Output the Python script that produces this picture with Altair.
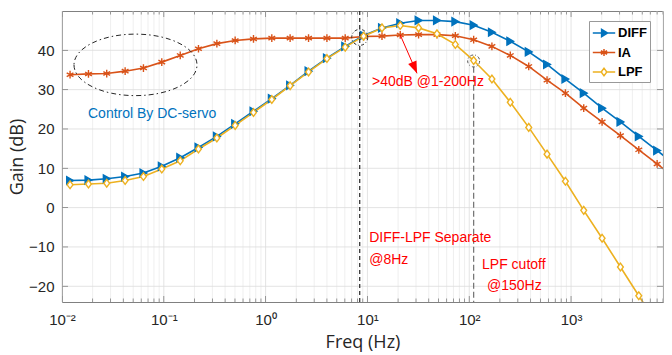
import altair as alt
import pandas as pd

# ---------------- data ----------------
freq = [0.0120, 0.0182, 0.0275, 0.0417, 0.0631, 0.0955, 0.145, 0.219, 0.332, 0.502,
        0.760, 1.15, 1.74, 2.64, 4.00, 6.05, 9.17, 13.9, 21.0, 31.8,
        48.2, 73.0, 110.5, 167, 253, 384, 581, 880, 1332, 2018,
        3055, 4627, 7006, 10607]
diff_db = [6.9, 7.0, 7.35, 7.9, 8.8, 10.5, 12.7, 15.3, 18.1, 21.3,
           24.5, 27.7, 31.1, 34.7, 38.0, 41.0, 43.8, 45.7, 46.9, 47.6,
           47.6, 47.3, 46.4, 44.6, 42.3, 39.6, 36.4, 32.7, 29.1, 25.3,
           21.8, 18.1, 14.5, 10.9]
ia_db = [33.8, 34.0, 34.1, 34.7, 35.5, 37.0, 38.7, 40.4, 41.7, 42.5,
         42.9, 43.1, 43.1, 43.1, 43.1, 43.1, 43.5, 43.6, 43.9, 44.0,
         44.0, 43.7, 42.7, 41.0, 38.7, 35.9, 32.4, 29.1, 25.3, 21.8,
         18.3, 14.7, 11.1, 7.5]
lpf_db = [5.8, 6.0, 6.2, 6.9, 7.9, 9.8, 11.9, 14.9, 17.7, 20.9,
          24.2, 27.5, 31.0, 34.5, 37.9, 40.8, 43.6, 45.7, 46.3, 45.7,
          44.2, 41.5, 37.4, 32.7, 26.8, 20.4, 13.6, 6.7, -0.7, -7.8,
          -15.1, -22.4, -29.7, -37.0]

series_names = ["DIFF", "IA", "LPF"]
series_colors = ["#0072BD", "#D95319", "#EDB120"]
marker_fills = ["#0072BD", "#D95319", "#FFFFFF"]
marker_shapes = ["triangle-right",
                 "M0,-1L0,1M-0.87,-0.5L0.87,0.5M-0.87,0.5L0.87,-0.5",
                 "M0,-1L0.75,0L0,1L-0.75,0Z"]
legend_shapes = ["M-1.4,0L1.4,0M-0.3,-0.45L0.45,0L-0.3,0.45Z",
                 "M-1.4,0L1.4,0M0,-0.45L0,0.45M-0.39,-0.22L0.39,0.22M-0.39,0.22L0.39,-0.22",
                 "M-1.4,0L-0.35,0M0.35,0L1.4,0M-0.35,0L0,-0.48L0.35,0L0,0.48Z"]

x_major = [0.01, 0.1, 1, 10, 100, 1000]
x_major_labels = ["10\u207b\u00b2", "10\u207b\u00b9", "10\u2070", "10\u00b9", "10\u00b2", "10\u00b3"]
x_minor = [round(m * 10.0 ** e, 6) for e in range(-2, 4) for m in range(2, 10) if m * 10.0 ** e <= 8000]
y_ticks = [-20, -10, 0, 10, 20, 30, 40]

note_text = ["Control By DC-servo", ">40dB @1-200Hz", "DIFF-LPF Separate", "@8Hz", "LPF cutoff", "@150Hz"]
note_freq = [0.018, 11.1, 10.4, 10.4, 133.6, 149.6]
note_gain = [23.8, 31.9, -7.8, -13.4, -14.7, -20.0]
note_color = ["#0072BD", "#FF0000", "#FF0000", "#FF0000", "#FF0000", "#FF0000"]

ellipse_center = [0.0527, 36.3]
circle1_center = [8.4, 43.3]
circle2_center = [110.5, 37.3]
vline1_freq = [8.4]
vline2 = {"f": [110.5], "top": [35.8], "bottom": [-24]}
arrow = {"f": [21.0], "g": [43.9], "f2": [30.7], "g2": [34.15]}

# ---------------- build ----------------
PLOT_W, PLOT_H = 601, 291
rows = []
for name, vals in zip(series_names, [diff_db, ia_db, lpf_db]):
    for f, v in zip(freq, vals):
        rows.append({"freq": f, "gain": v, "series": name})
df = pd.DataFrame(rows)

x_scale = alt.Scale(type="log", domain=[0.01, 8000], nice=False)
y_scale = alt.Scale(domain=[-24, 50], nice=False, zero=False)
stroke_scale = alt.Scale(domain=series_names, range=series_colors)
fill_scale = alt.Scale(domain=series_names, range=marker_fills)

label_expr = " : ".join(f"datum.value == {v} ? '{l}'" for v, l in zip(x_major, x_major_labels)) + " : ''"

x_axis = alt.Axis(values=x_major, labelExpr=label_expr, labelOverlap=False,
                  labelFlush=False, ticks=False, domain=False, grid=False,
                  labelFont="Liberation Sans", labelFontSize=15, labelColor="#262626",
                  labelPadding=10, title="Freq (Hz)", titleFont="Open Sans", titleFontSize=18,
                  titleFontWeight="normal", titleColor="#262626", titlePadding=6)
y_axis = alt.Axis(values=y_ticks, ticks=False, domain=False, grid=False,
                  labelFont="Liberation Sans", labelFontSize=15, labelColor="#262626",
                  labelPadding=8, title="Gain (dB)", titleFont="Open Sans", titleFontSize=18,
                  titleFontWeight="normal", titleColor="#262626", titlePadding=2)


def X(field):
    return alt.X(field, type="quantitative", scale=x_scale)


def Y(field):
    return alt.Y(field, type="quantitative", scale=y_scale)


# first layers carry the axis definitions (grid drawn as rules)
grid_minor = alt.Chart(pd.DataFrame({"t": x_minor})).mark_rule(stroke="#ebebeb", strokeWidth=0.8).encode(
    x=alt.X("t", type="quantitative", scale=x_scale, axis=x_axis))
grid_major = alt.Chart(pd.DataFrame({"t": x_major})).mark_rule(stroke="#dcdcdc", strokeWidth=0.8).encode(x=X("t"))
grid_y = alt.Chart(pd.DataFrame({"t": y_ticks})).mark_rule(stroke="#dcdcdc", strokeWidth=0.8).encode(
    y=alt.Y("t", type="quantitative", scale=y_scale, axis=y_axis))

line_layers = []
marker_layers = []
for name, color, fill, shape in zip(series_names, series_colors, marker_fills, marker_shapes):
    sub = alt.Chart(df).transform_filter(alt.datum.series == name)
    line_layers.append(sub.mark_line(stroke=color, strokeWidth=1.6, clip=True).encode(
        x=X("freq"), y=Y("gain")))
    marker_layers.append(sub.mark_point(
        shape=shape, size=60, filled=True, fill=fill, stroke=color, strokeWidth=1.4,
        opacity=1, clip=True).encode(x=X("freq"), y=Y("gain")))

leg = alt.Legend(title=None, orient="none", legendX=527, legendY=10, symbolSize=256,
                 symbolStrokeWidth=1.5, labelFont="Liberation Sans", labelFontSize=13,
                 labelFontWeight="bold", labelColor="#000000", labelOffset=5, symbolOffset=3,
                 rowPadding=3.5, padding=3, strokeColor="#999999", fillColor="#ffffff")
carrier = alt.Chart(df).transform_filter(alt.datum.freq > 8000).mark_point(
    opacity=1, strokeWidth=1.5, clip=True
).encode(
    x=X("freq"), y=Y("gain"),
    shape=alt.Shape("series:N", scale=alt.Scale(domain=series_names, range=legend_shapes), legend=leg),
    stroke=alt.Stroke("series:N", scale=stroke_scale, legend=leg),
    fill=alt.Fill("series:N", scale=fill_scale, legend=leg),
)


def xticks(vals, size, ypos):
    return alt.Chart(pd.DataFrame({"t": vals})).mark_tick(
        orient="vertical", size=size, thickness=0.8, color="#808080", opacity=1, clip=True
    ).encode(x=X("t"), y=alt.value(ypos))


def yticks(vals, size, xpos):
    return alt.Chart(pd.DataFrame({"t": vals})).mark_tick(
        orient="horizontal", size=size, thickness=0.8, color="#808080", opacity=1, clip=True
    ).encode(y=Y("t"), x=alt.value(xpos))


tick_layers = [xticks(x_major, 12, 0), xticks(x_major, 12, PLOT_H),
               xticks(x_minor, 7, 0), xticks(x_minor, 7, PLOT_H),
               yticks(y_ticks, 12, 0), yticks(y_ticks, 12, PLOT_W)]

ellipse = alt.Chart(pd.DataFrame({"f": [ellipse_center[0]], "g": [ellipse_center[1]]})).mark_point(
    shape="M-1,0A1,0.5,0,1,0,1,0A1,0.5,0,1,0,-1,0Z", size=15129, filled=False,
    stroke="#262626", strokeWidth=1, strokeDash=[5, 3, 1.5, 3], opacity=1
).encode(x=X("f"), y=Y("g"))

circle1 = alt.Chart(pd.DataFrame({"f": [circle1_center[0]], "g": [circle1_center[1]]})).mark_point(
    shape="circle", size=256, filled=False, stroke="#262626", strokeWidth=1,
    strokeDash=[3, 2, 1, 2], opacity=1
).encode(x=X("f"), y=Y("g"))

circle2 = alt.Chart(pd.DataFrame({"f": [circle2_center[0]], "g": [circle2_center[1]]})).mark_point(
    shape="circle", size=144, filled=False, stroke="#555555", strokeWidth=1,
    strokeDash=[3, 2, 1, 2], opacity=1
).encode(x=X("f"), y=Y("g"))

vline1 = alt.Chart(pd.DataFrame({"f": vline1_freq})).mark_rule(
    stroke="#262626", strokeWidth=1.2, strokeDash=[4, 3]
).encode(x=X("f"))

vline2_layer = alt.Chart(pd.DataFrame(vline2)).mark_rule(
    stroke="#707070", strokeWidth=1.2, strokeDash=[6, 3]
).encode(x=X("f"), y=Y("top"), y2="bottom:Q")

arrow_df = pd.DataFrame(arrow)
arrow_line = alt.Chart(arrow_df).mark_rule(stroke="#FF0000", strokeWidth=1).encode(
    x=X("f"), y=Y("g"), x2="f2:Q", y2="g2:Q")
arrow_head = alt.Chart(arrow_df).mark_point(
    shape="M-0.75,-2L0.75,-2L0,0Z", size=144, angle=337, filled=True, fill="#FF0000",
    strokeWidth=0, opacity=1
).encode(x=X("f2"), y=Y("g2"))

notes = alt.Chart(pd.DataFrame({"text": note_text, "f": note_freq, "g": note_gain, "c": note_color})).mark_text(
    align="left", baseline="middle", font="Liberation Sans", fontSize=14
).encode(x=X("f"), y=Y("g"), text="text:N", color=alt.Color("c:N", scale=None))

chart = alt.layer(
    grid_minor, grid_major, grid_y,
    *line_layers, *marker_layers, *tick_layers, ellipse, vline1, vline2_layer, circle1, circle2,
    arrow_line, arrow_head, notes, carrier
).properties(
    width=PLOT_W, height=PLOT_H,
    autosize=alt.AutoSizeParams(type="none"),
    padding={"left": 62, "top": 11, "right": 9, "bottom": 53},
    background="#ffffff",
).configure_view(stroke="#808080", strokeWidth=1)

chart.save("out.html", embed_options={"renderer": "svg", "actions": False})
